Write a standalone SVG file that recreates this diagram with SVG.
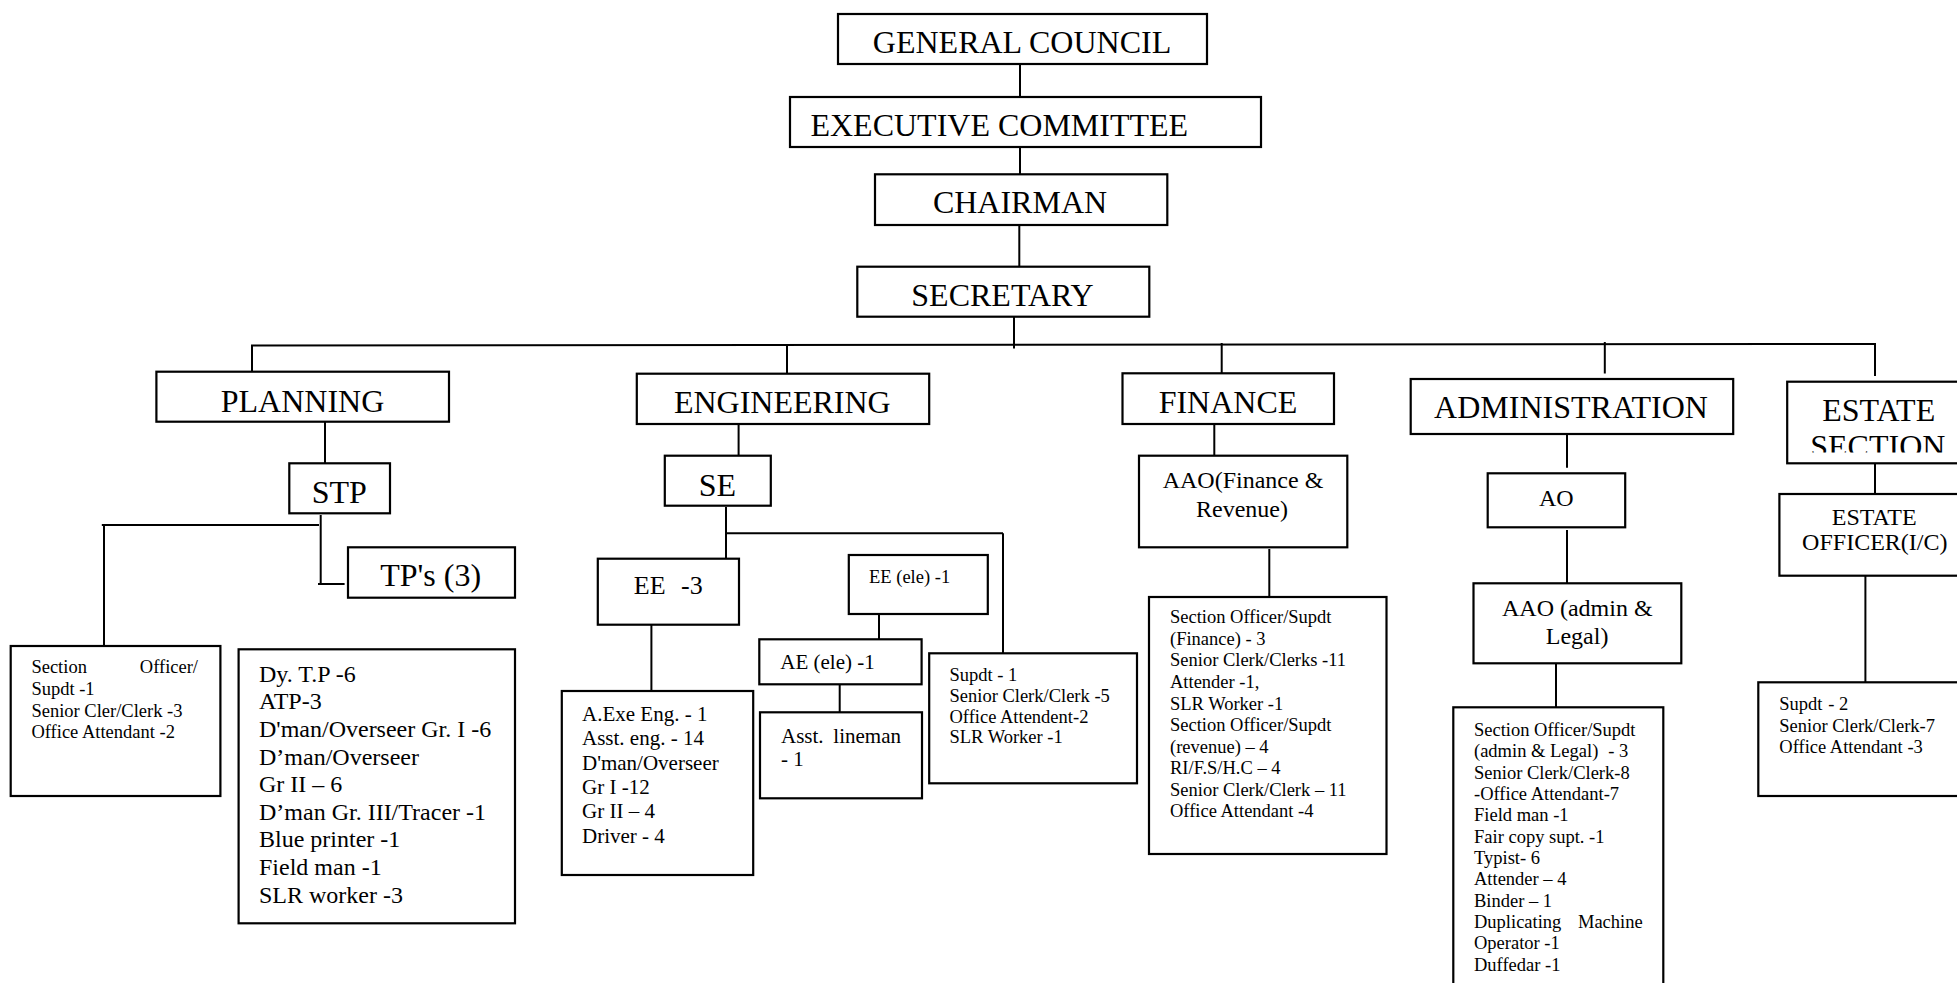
<svg xmlns="http://www.w3.org/2000/svg" width="1957" height="983" viewBox="0 0 1957 983">
<style>
  .box{fill:#fff;stroke:#000;stroke-width:2.2}
  .ln{stroke:#000;stroke-width:2;fill:none}
  text{font-family:"Liberation Serif","Times New Roman",serif;fill:#000}
  .t32{font-size:32px;text-anchor:middle}
  .t24c{font-size:24px;text-anchor:middle}
  .t24{font-size:24px}
  .t21{font-size:21px}
  .t18{font-size:18.5px}
</style>
<defs>
  <clipPath id="clipSection"><rect x="1780" y="380" width="200" height="72.5"/></clipPath>
</defs>
<rect width="1957" height="983" fill="#fff"/>

<g id="connectors">
  <line class="ln" x1="1020" y1="64" x2="1020" y2="97"/>
  <line class="ln" x1="1020" y1="147" x2="1020" y2="174"/>
  <line class="ln" x1="1019.3" y1="225" x2="1019.3" y2="267"/>
  <line class="ln" x1="1014" y1="317" x2="1014" y2="348.5"/>
  <line class="ln" x1="251" y1="345.5" x2="1876" y2="344"/>
  <line class="ln" x1="252" y1="345" x2="252" y2="372"/>
  <line class="ln" x1="787" y1="345" x2="787" y2="374"/>
  <line class="ln" x1="1221.7" y1="343" x2="1221.7" y2="376"/>
  <line class="ln" x1="1604.8" y1="342" x2="1604.8" y2="373.5"/>
  <line class="ln" x1="1875" y1="343" x2="1875" y2="376"/>
  <line class="ln" x1="325" y1="422" x2="325" y2="463.5"/>
  <line class="ln" x1="320.7" y1="515" x2="320.7" y2="585"/>
  <line class="ln" x1="101.8" y1="525" x2="319" y2="525"/>
  <line class="ln" x1="104" y1="525" x2="104" y2="646"/>
  <line class="ln" x1="318" y1="584" x2="344.6" y2="584"/>
  <line class="ln" x1="738.6" y1="424" x2="738.6" y2="456"/>
  <line class="ln" x1="726" y1="507" x2="726" y2="559"/>
  <line class="ln" x1="726" y1="533.3" x2="1003" y2="533.3"/>
  <line class="ln" x1="1003" y1="533.3" x2="1003" y2="653.5"/>
  <line class="ln" x1="651.4" y1="625" x2="651.4" y2="691"/>
  <line class="ln" x1="879" y1="614" x2="879" y2="639.5"/>
  <line class="ln" x1="839.7" y1="684.5" x2="839.7" y2="712.5"/>
  <line class="ln" x1="1214.3" y1="424" x2="1214.3" y2="456"/>
  <line class="ln" x1="1269.3" y1="549" x2="1269.3" y2="597"/>
  <line class="ln" x1="1567" y1="434" x2="1567" y2="467.7"/>
  <line class="ln" x1="1567" y1="530" x2="1567" y2="583.5"/>
  <line class="ln" x1="1556" y1="663.5" x2="1556" y2="707.5"/>
  <line class="ln" x1="1875" y1="463.5" x2="1875" y2="494"/>
  <line class="ln" x1="1865.4" y1="576" x2="1865.4" y2="682.5"/>
</g>

<g id="general-council">
  <rect class="box" x="838" y="14" width="369" height="50"/>
  <text class="t32" x="1022" y="53">GENERAL COUNCIL</text>
</g>
<g id="executive-committee">
  <rect class="box" x="790" y="97" width="471" height="50"/>
  <text class="t32" x="999.3" y="136">EXECUTIVE COMMITTEE</text>
</g>
<g id="chairman">
  <rect class="box" x="875" y="174.3" width="292.3" height="50.7"/>
  <text class="t32" x="1020" y="213">CHAIRMAN</text>
</g>
<g id="secretary">
  <rect class="box" x="857.3" y="266.7" width="292" height="50"/>
  <text class="t32" x="1002.5" y="306">SECRETARY</text>
</g>

<g id="planning">
  <rect class="box" x="156.4" y="371.7" width="292.6" height="50"/>
  <text class="t32" x="302.5" y="411.7">PLANNING</text>
</g>
<g id="stp">
  <rect class="box" x="289.3" y="463.3" width="100.7" height="50"/>
  <text class="t32" x="339.2" y="502.7">STP</text>
</g>
<g id="tps">
  <rect class="box" x="348" y="547.3" width="167" height="50.4"/>
  <text class="t32" x="430.7" y="586">TP's (3)</text>
</g>
<g id="planning-office">
  <rect class="box" x="10.7" y="646" width="209.7" height="150"/>
  <text class="t18" x="31.4" y="673.3">Section</text>
  <text class="t18" x="198" y="673.3" text-anchor="end">Officer/</text>
  <text class="t18" x="31.4" y="695">Supdt -1</text>
  <text class="t18" x="31.4" y="716.5">Senior Cler/Clerk -3</text>
  <text class="t18" x="31.4" y="738.3">Office Attendant -2</text>
</g>
<g id="planning-staff">
  <rect class="box" x="238.6" y="649.3" width="276.4" height="274"/>
  <text class="t24" x="259" y="681.7">Dy. T.P -6</text>
  <text class="t24" x="259" y="709.3">ATP-3</text>
  <text class="t24" x="259" y="736.9">D'man/Overseer Gr. I -6</text>
  <text class="t24" x="259" y="764.5">D’man/Overseer</text>
  <text class="t24" x="259" y="792.1">Gr II – 6</text>
  <text class="t24" x="259" y="819.7">D’man Gr. III/Tracer -1</text>
  <text class="t24" x="259" y="847.3">Blue printer -1</text>
  <text class="t24" x="259" y="874.9">Field man -1</text>
  <text class="t24" x="259" y="902.5">SLR worker -3</text>
</g>

<g id="engineering">
  <rect class="box" x="636.8" y="373.7" width="292.4" height="50.3"/>
  <text class="t32" x="782.3" y="412.7">ENGINEERING</text>
</g>
<g id="se">
  <rect class="box" x="664.8" y="455.7" width="106" height="50"/>
  <text class="t32" x="717.4" y="495.7">SE</text>
</g>
<g id="ee3">
  <rect class="box" x="597.8" y="558.7" width="141.2" height="66"/>
  <text style="font-size:26px" x="633.8" y="594.3">EE</text>
  <text style="font-size:26px" x="681" y="594.3">-3</text>
</g>
<g id="ee-ele">
  <rect class="box" x="848.8" y="555" width="139" height="59"/>
  <text class="t18" x="869" y="583.3">EE (ele) -1</text>
</g>
<g id="ae-ele">
  <rect class="box" x="759.3" y="639.3" width="162.3" height="45"/>
  <text class="t21" x="780.3" y="669.3">AE (ele) -1</text>
</g>
<g id="asst-lineman">
  <rect class="box" x="760" y="712.3" width="162" height="86"/>
  <text class="t21" x="781" y="742.7">Asst.</text>
  <text class="t21" x="901" y="742.7" text-anchor="end">lineman</text>
  <text class="t21" x="781" y="766">- 1</text>
</g>
<g id="engineering-staff">
  <rect class="box" x="561.8" y="691" width="191.4" height="184"/>
  <text class="t21" x="582" y="720.7">A.Exe Eng. - 1</text>
  <text class="t21" x="582" y="745.1">Asst. eng. - 14</text>
  <text class="t21" x="582" y="769.5">D'man/Overseer</text>
  <text class="t21" x="582" y="793.9">Gr I -12</text>
  <text class="t21" x="582" y="818.3">Gr II – 4</text>
  <text class="t21" x="582" y="842.7">Driver - 4</text>
</g>
<g id="engineering-office">
  <rect class="box" x="929.2" y="653.3" width="207.8" height="130"/>
  <text class="t18" x="949.5" y="681">Supdt - 1</text>
  <text class="t18" x="949.5" y="701.7">Senior Clerk/Clerk -5</text>
  <text class="t18" x="949.5" y="722.7">Office Attendent-2</text>
  <text class="t18" x="949.5" y="743.3">SLR Worker -1</text>
</g>

<g id="finance">
  <rect class="box" x="1122.5" y="373.3" width="211.5" height="50.7"/>
  <text class="t32" x="1228" y="412.7">FINANCE</text>
</g>
<g id="aao-finance">
  <rect class="box" x="1139" y="455.7" width="208.3" height="91.6"/>
  <text class="t24c" x="1243" y="488.3">AAO(Finance &amp;</text>
  <text class="t24c" x="1242" y="516.7">Revenue)</text>
</g>
<g id="finance-staff">
  <rect class="box" x="1149" y="597" width="237.5" height="257"/>
  <text class="t18" x="1170" y="623.3">Section Officer/Supdt</text>
  <text class="t18" x="1170" y="644.9">(Finance) - 3</text>
  <text class="t18" x="1170" y="666.4">Senior Clerk/Clerks -11</text>
  <text class="t18" x="1170" y="688">Attender -1,</text>
  <text class="t18" x="1170" y="709.5">SLR Worker -1</text>
  <text class="t18" x="1170" y="731.1">Section Officer/Supdt</text>
  <text class="t18" x="1170" y="752.6">(revenue) – 4</text>
  <text class="t18" x="1170" y="774.2">RI/F.S/H.C – 4</text>
  <text class="t18" x="1170" y="795.7">Senior Clerk/Clerk – 11</text>
  <text class="t18" x="1170" y="817.3">Office Attendant -4</text>
</g>

<g id="administration">
  <rect class="box" x="1410.7" y="379" width="322.5" height="55"/>
  <text class="t32" x="1571" y="418.3">ADMINISTRATION</text>
</g>
<g id="ao">
  <rect class="box" x="1487.7" y="473.3" width="137.5" height="54"/>
  <text class="t24c" x="1556.3" y="506">AO</text>
</g>
<g id="aao-admin">
  <rect class="box" x="1473.5" y="583.3" width="207.8" height="80"/>
  <text class="t24c" x="1577.3" y="616">AAO (admin &amp;</text>
  <text class="t24c" x="1577.1" y="644">Legal)</text>
</g>
<g id="admin-staff">
  <rect class="box" x="1453.3" y="707.3" width="210" height="300"/>
  <text class="t18" x="1474" y="736">Section Officer/Supdt</text>
  <text class="t18" x="1474" y="757.3">(admin &amp; Legal)</text>
  <text class="t18" x="1608.3" y="757.3">- 3</text>
  <text class="t18" x="1474" y="778.7">Senior Clerk/Clerk-8</text>
  <text class="t18" x="1474" y="800">-Office Attendant-7</text>
  <text class="t18" x="1474" y="821.4">Field man -1</text>
  <text class="t18" x="1474" y="842.7">Fair copy supt. -1</text>
  <text class="t18" x="1474" y="864">Typist- 6</text>
  <text class="t18" x="1474" y="885.4">Attender – 4</text>
  <text class="t18" x="1474" y="906.7">Binder – 1</text>
  <text class="t18" x="1474" y="928.1">Duplicating</text>
  <text class="t18" x="1642.7" y="928.1" text-anchor="end">Machine</text>
  <text class="t18" x="1474" y="949.4">Operator -1</text>
  <text class="t18" x="1474" y="970.7">Duffedar -1</text>
</g>

<g id="estate-section">
  <rect class="box" x="1787.2" y="381.7" width="200" height="81.6"/>
  <text class="t32" x="1878.7" y="420.7">ESTATE</text>
  <text class="t32" x="1877.8" y="456.5" clip-path="url(#clipSection)">SECTION</text>
</g>
<g id="estate-officer">
  <rect class="box" x="1779.4" y="494" width="200" height="81.7"/>
  <text class="t24c" x="1874.2" y="524.5">ESTATE</text>
  <text class="t24c" x="1874.8" y="550">OFFICER(I/C)</text>
</g>
<g id="estate-staff">
  <rect class="box" x="1758.3" y="682.3" width="220" height="113.7"/>
  <text class="t18" x="1779.3" y="710">Supdt</text>
  <text class="t18" x="1828.3" y="710">- 2</text>
  <text class="t18" x="1779.3" y="731.7">Senior Clerk/Clerk-7</text>
  <text class="t18" x="1779.3" y="752.7">Office Attendant -3</text>
</g>
</svg>
